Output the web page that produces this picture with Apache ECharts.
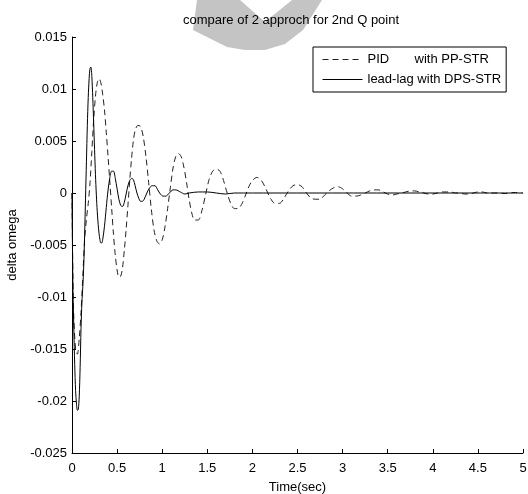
<!DOCTYPE html>
<html>
<head>
<meta charset="utf-8">
<script src="https://cdn.jsdelivr.net/npm/echarts@6/dist/echarts.min.js"></script>
<style>html,body{margin:0;padding:0;background:#fff}#c{width:528px;height:494px}</style>
</head>
<body>
<div id="c"></div>
<script>
var chartTitle = 'compare of 2 approch for 2nd Q point';
var xAxisName = 'Time(sec)';
var yAxisName = 'delta omega';
var seriesNames = ['PID', 'lead-lag'];
var seriesSuffix = ['with PP-STR', 'with DPS-STR'];

var pidTime = [0,0.01,0.02,0.04,0.06,0.08,0.10,0.12,0.14,0.16,0.18,0.20,0.22,0.24,0.26,0.28,0.30,0.32,0.34,0.36,0.38,0.40,0.42,0.44,0.46,0.48,0.50,0.52,0.54,0.56,0.58,0.60,0.62,0.64,0.66,0.68,0.70,0.73,0.76,0.79,0.82,0.85,0.88,0.91,0.94,0.97,1.00,1.03,1.06,1.09,1.12,1.15,1.18,1.21,1.24,1.27,1.30,1.33,1.36,1.40,1.44,1.48,1.52,1.56,1.60,1.64,1.68,1.72,1.76,1.80,1.84,1.88,1.92,1.96,2.00,2.05,2.10,2.15,2.20,2.25,2.30,2.35,2.40,2.45,2.50,2.55,2.60,2.65,2.70,2.75,2.80,2.85,2.90,2.95,3.00,3.05,3.10,3.15,3.20,3.25,3.30,3.35,3.40,3.45,3.50,3.55,3.60,3.65,3.70,3.75,3.80,3.85,3.90,3.95,4.00,4.05,4.10,4.15,4.20,4.25,4.30,4.35,4.40,4.45,4.50,4.55,4.60,4.70,4.80,4.90,5.00];
var pidValues = [0,-0.008,-0.012,-0.015,-0.0155,-0.014,-0.0115,-0.008,-0.0045,-0.0025,-0.001,0.001,0.004,0.007,0.0093,0.0106,0.011,0.0106,0.0095,0.008,0.0058,0.0035,0.001,-0.0015,-0.004,-0.006,-0.0074,-0.0081,-0.008,-0.0072,-0.0055,-0.0035,-0.0012,0.0012,0.0033,0.005,0.006,0.0065,0.0064,0.0054,0.0035,0.001,-0.0016,-0.0036,-0.0046,-0.0049,-0.0045,-0.0033,-0.0015,0.0005,0.0024,0.0035,0.0038,0.0035,0.0025,0.001,-0.0007,-0.002,-0.0026,-0.0026,-0.0017,-0.0002,0.0013,0.0021,0.0023,0.0021,0.0012,0,-0.001,-0.0015,-0.0015,-0.0011,-0.0003,0.0006,0.0012,0.0015,0.0012,0.0004,-0.0005,-0.001,-0.001,-0.0005,0.0002,0.0007,0.0008,0.0006,0,-0.0005,-0.0006,-0.0006,-0.0002,0.0002,0.0005,0.0006,0.0004,0,-0.0003,-0.0003,-0.0002,0,0.0002,0.0003,0.0003,0.0001,-0.0001,-0.0002,-0.0001,0,0.0001,0.0002,0.0002,0.0001,0,-0.0001,-0.0001,0,0.0001,0.0001,0.0001,0,0,-0.0001,-0.0001,0,0.0001,0.0001,0,0,-0.00005,0.00005,0];

var llTime = [0,0.01,0.02,0.03,0.04,0.05,0.06,0.07,0.08,0.09,0.10,0.11,0.12,0.13,0.14,0.15,0.16,0.17,0.18,0.19,0.20,0.21,0.22,0.23,0.24,0.25,0.26,0.27,0.28,0.29,0.30,0.31,0.32,0.33,0.34,0.36,0.38,0.40,0.42,0.44,0.46,0.48,0.50,0.52,0.54,0.56,0.58,0.60,0.62,0.64,0.66,0.68,0.70,0.72,0.74,0.76,0.78,0.80,0.83,0.86,0.89,0.92,0.95,0.98,1.01,1.04,1.08,1.12,1.15,1.20,1.25,1.30,1.40,1.50,1.60,1.70,1.80,2.00,2.50,3.00,3.50,4.00,4.50,5.00];
var llValues = [0,-0.009,-0.013,-0.0165,-0.019,-0.0203,-0.0209,-0.0208,-0.0196,-0.0168,-0.013,-0.0105,-0.009,-0.007,-0.004,-0.0005,0.003,0.0065,0.0092,0.011,0.012,0.0121,0.0112,0.0092,0.0068,0.0042,0.0018,-0.0002,-0.0018,-0.003,-0.0039,-0.0045,-0.0048,-0.0048,-0.0045,-0.0032,-0.0014,0.0003,0.0015,0.0021,0.0021,0.0014,0.0004,-0.0006,-0.0012,-0.0013,-0.0009,-0.0001,0.0007,0.0012,0.0014,0.0013,0.0007,0,-0.0005,-0.0008,-0.0008,-0.0006,0,0.0005,0.0007,0.0007,0.0003,-0.0001,-0.0003,-0.0003,0,0.0003,0.0003,0.0001,-0.0001,0,0.0001,0.0001,0,-0.0001,0,0,0,0,0,0,0,0];

function pairs(t, v) { return t.map(function (x, i) { return [x, v[i]]; }); }
function fmt(v) { return String(parseFloat(v.toFixed(4))); }

var font = 'Liberation Sans, Arial, Helvetica, sans-serif';
var chart = echarts.init(document.getElementById('c'), null, { renderer: 'canvas' });
chart.setOption({
  animation: false,
  backgroundColor: '#fff',
  graphic: [{
    type: 'polygon', z: -10, silent: true,
    shape: { points: [[197,0],[240,0],[265,22],[292,0],[322,0],[303,30],[285,44],[265,50],[245,50],[227,47],[193,30]] },
    style: { fill: '#c4c4c4' }
  }],
  title: {
    text: chartTitle, left: 183, top: 14, padding: 0,
    textStyle: { fontFamily: font, fontSize: 13, fontWeight: 'normal', color: '#000' }
  },
  legend: {
    orient: 'vertical', left: 313, top: 47,
    padding: [6, 5, 6, 9], itemGap: 7, itemWidth: 40, itemHeight: 10,
    backgroundColor: '#fff', borderColor: '#000', borderWidth: 1, borderRadius: 0,
    itemStyle: { opacity: 0 },
    lineStyle: { width: 1 },
    data: seriesNames,
    formatter: function (name) {
      var i = seriesNames.indexOf(name);
      if (i === 0) return '{a|' + name + '}{b|' + seriesSuffix[i] + '}';
      return name + ' ' + seriesSuffix[i];
    },
    textStyle: {
      fontFamily: font, fontSize: 13, color: '#000',
      rich: { a: { width: 47, fontFamily: font, fontSize: 13 }, b: { fontFamily: font, fontSize: 13 } }
    }
  },
  grid: { left: 72, right: 5, top: 37, bottom: 41, containLabel: false, outerBoundsMode: 'none' },
  xAxis: {
    type: 'value', min: 0, max: 5, interval: 0.5,
    name: xAxisName, nameLocation: 'middle', nameGap: 28,
    nameTextStyle: { fontFamily: font, fontSize: 13, color: '#000' },
    axisLine: { onZero: false, lineStyle: { color: '#000', width: 1 } },
    axisTick: { inside: true, length: 4, lineStyle: { color: '#000' } },
    axisLabel: { margin: 9, fontFamily: font, fontSize: 13, color: '#000', formatter: fmt },
    splitLine: { show: false }
  },
  yAxis: {
    type: 'value', min: -0.025, max: 0.015, interval: 0.005,
    name: yAxisName, nameLocation: 'middle', nameGap: 53,
    nameTextStyle: { fontFamily: font, fontSize: 13, color: '#000' },
    axisLine: { show: true, onZero: false, lineStyle: { color: '#000', width: 1 } },
    axisTick: { show: true, inside: true, length: 4, lineStyle: { color: '#000' } },
    axisLabel: { margin: 5, fontFamily: font, fontSize: 13, color: '#000', formatter: fmt },
    splitLine: { show: false }
  },
  series: [{
    name: seriesNames[0], type: 'line', symbol: 'none', smooth: 0.3,
    data: pairs(pidTime, pidValues),
    lineStyle: { color: '#222', width: 1, type: [6, 4] },
    itemStyle: { color: '#222' }
  }, {
    name: seriesNames[1], type: 'line', symbol: 'none', smooth: 0.3,
    data: pairs(llTime, llValues),
    lineStyle: { color: '#000', width: 1, type: 'solid' },
    itemStyle: { color: '#000' }
  }]
});
</script>
</body>
</html>
